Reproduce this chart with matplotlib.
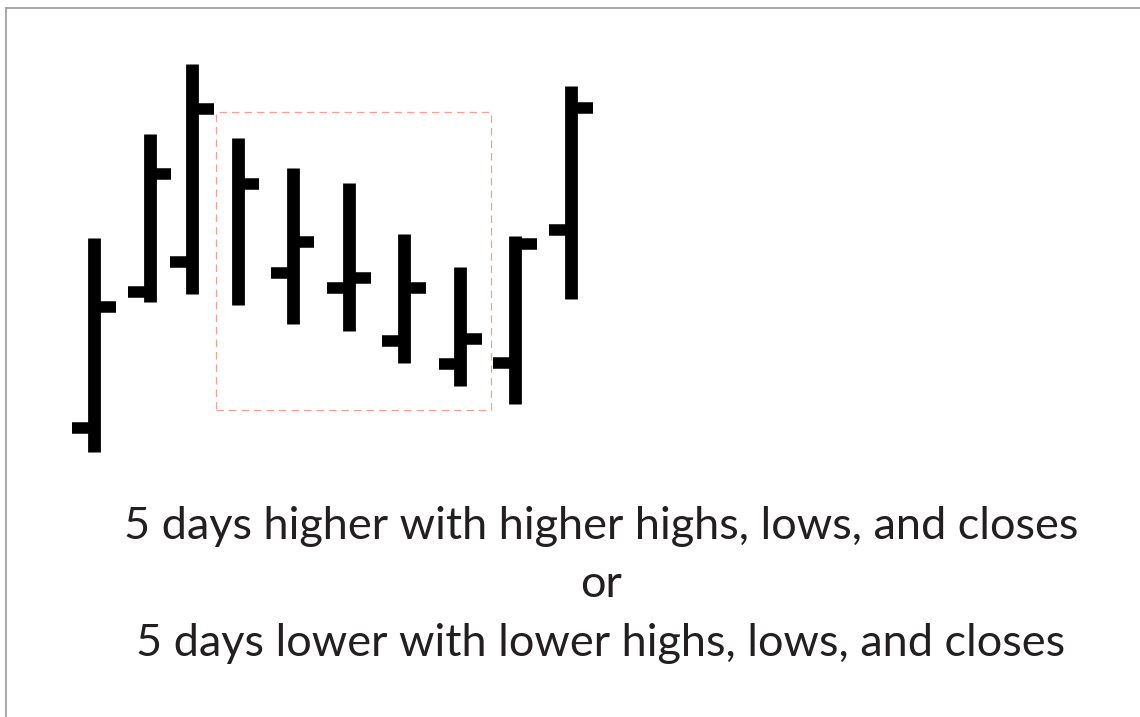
import matplotlib
matplotlib.use("Agg")
import matplotlib.pyplot as plt
from matplotlib.patches import Rectangle
from matplotlib.lines import Line2D

# ---- data (price units, days) ----
days   = [0, 1.05, 1.85, 2.71, 3.75, 4.81, 5.85, 6.91, 7.94, 9.0]
highs  = [60.5, 86.5, 104.0, 85.5, 78.0, 74.25, 61.5, 53.25, 61.0, 98.5]
lows   = [7.0, 44.5, 46.5, 43.75, 39.0, 37.25, 29.25, 23.5, 19.0, 45.25]
opens  = [13.0, 47.0, 54.5, None, 51.75, 48.0, 34.75, 29.0, 29.25, 62.5]
closes = [43.25, 76.5, 92.75, 74.0, 59.5, 50.5, 48.0, 35.25, 59.0, 93.0]

box_days  = [2.30, 7.49]
box_price = [17.5, 92.0]

caption = ["5 days higher with higher highs, lows, and closes",
           "or",
           "5 days lower with lower highs, lows, and closes"]

# ---- figure ----
fig = plt.figure(figsize=(11.4, 7.17), dpi=100)
fig.patch.set_facecolor("white")
ax = fig.add_axes([0, 0, 1, 1])
ax.set_xlim(-94 / 53, (1140 - 94) / 53)
ax.set_ylim((480 - 717) / 4, 480 / 4)
ax.axis("off")

tick = 0.41
ax.vlines(days, lows, highs, colors="black", linewidth=9.2, capstyle="butt")
ox = [d for d, o in zip(days, opens) if o is not None]
oy = [o for o in opens if o is not None]
ax.hlines(oy, [d - tick for d in ox], ox, colors="black", linewidth=8.3, capstyle="butt")
ax.hlines(closes, days, [d + tick for d in days], colors="black", linewidth=8.3, capstyle="butt")

ax.add_patch(Rectangle((box_days[0], box_price[0]), box_days[1] - box_days[0],
                       box_price[1] - box_price[0], fill=False,
                       edgecolor="#f4a097", linewidth=0.9,
                       linestyle=(0, (6, 4))))

# frame lines (top and left)
fig.add_artist(Line2D([6 / 1140, 1], [1 - 8 / 717, 1 - 8 / 717], color="#a0a0a0", linewidth=1.3))
fig.add_artist(Line2D([6 / 1140, 6 / 1140], [0, 1 - 8 / 717], color="#a0a0a0", linewidth=1.3))

baselines = [539, 597, 656]
for txt, b in zip(caption, baselines):
    fig.text(601 / 1140, 1 - b / 717, txt, ha="center", va="baseline",
             fontsize=32.5, family="Lato", color="#231f20")

fig.savefig("out.png", dpi=100)
